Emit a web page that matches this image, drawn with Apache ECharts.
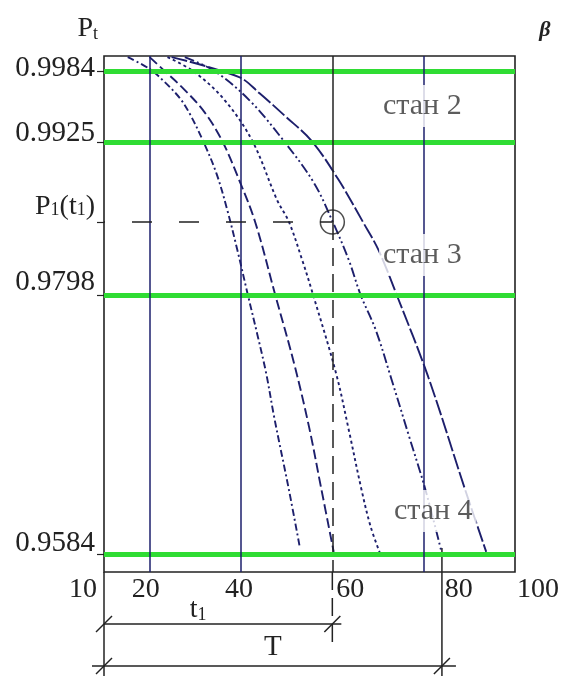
<!DOCTYPE html>
<html>
<head>
<meta charset="utf-8">
<script src="https://cdn.jsdelivr.net/npm/echarts@6/dist/echarts.min.js"></script>
<style>
  html, body { margin: 0; padding: 0; background: #fff; }
  #chart { width: 562px; height: 676px; }
</style>
</head>
<body>
<div id="chart"></div>
<script>
// reliability curves P(t)
const curve1T = [15.2, 20.0, 23.3, 26.6, 28.7, 31.6, 34.6, 37.0, 39.2, 41.4, 43.6, 45.5, 47.3, 50.5, 52.9]
const curve1P = [0.99956, 0.99857, 0.99749, 0.99616, 0.99492, 0.99269, 0.98995, 0.98689, 0.98358, 0.98002, 0.97654, 0.97339, 0.96966, 0.96370, 0.95890]

const curve2T = [20.0, 23.3, 27.7, 32.0, 35.9, 39.6, 43.1, 47.5, 51.6, 54.9, 57.5, 60.3]
const curve2P = [0.99956, 0.99840, 0.99683, 0.99500, 0.99260, 0.98937, 0.98590, 0.97985, 0.97422, 0.96892, 0.96395, 0.95857]

const curve3T = [23.9, 29.8, 36.4, 42.5, 47.9, 50.5, 53.4, 55.8, 60.8, 63.6, 66.4, 68.4, 70.4]
const curve3P = [0.99956, 0.99832, 0.99600, 0.99260, 0.98772, 0.98590, 0.98275, 0.97985, 0.97339, 0.96867, 0.96370, 0.96064, 0.95849]

const curve4T = [27.7, 34.2, 41.8, 49.4, 56.0, 60.1, 63.6, 66.2, 69.5, 73.0, 76.7, 80.4, 83.9]
const curve4P = [0.99956, 0.99840, 0.99600, 0.99260, 0.98912, 0.98590, 0.98275, 0.97985, 0.97696, 0.97281, 0.96826, 0.96370, 0.95857]

const curve5T = [24.8, 39.6, 44.0, 49.9, 55.5, 61.4, 66.7, 70.1, 74.1, 81.0, 89.1, 93.7]
const curve5P = [0.99956, 0.99790, 0.99658, 0.99459, 0.99260, 0.98937, 0.98590, 0.98358, 0.97985, 0.97306, 0.96370, 0.95857]

const curveDash = [[7, 3, 2, 3], [10, 4], [3, 3], [10, 3, 2, 3, 2, 3], [16, 3]]

// state thresholds and the marked point
const stateLevels = [0.9984, 0.9925, 0.9798, 0.9584]
const p1Level = 0.9859
const t1Value = 60
const bigT = 84
const gridLinesT = [20, 40, 80]

const stateNames = ['стан 2', 'стан 3', 'стан 4']
const stateNameT = [79.7, 79.7, 82.1]
const stateNameP = [0.99550, 0.98316, 0.96196]

const xTicks = [10, 20, 40, 60, 80, 100]
const yTicks = [0.9984, 0.9925, 0.9859, 0.9798, 0.9584]

const yMin = 0.9569
const yMax = 0.99965

const FONT = '"Liberation Serif", "Times New Roman", serif'
const INK = '#222'
const NAVY = '#1d1f6c'

const zip = (a, b) => a.map((v, i) => [v, b[i]])
const curves = [
  zip(curve1T, curve1P), zip(curve2T, curve2P), zip(curve3T, curve3P),
  zip(curve4T, curve4P), zip(curve5T, curve5P),
]

// hand-placed offsets of the tick labels in the scan
const xShift = { 10: -21, 20: -4, 40: -2, 60: 18, 80: 35, 100: 23 }
const yLift = { 0.9984: 3, 0.9925: 9, 0.9859: 15, 0.9798: 13, 0.9584: 11 }

const xRich = {}
xTicks.forEach((v) => {
  const s = xShift[v]
  xRich['x' + v] = {
    fontSize: 28, fontFamily: FONT, color: INK,
    padding: s >= 0 ? [0, 0, 0, 2 * s] : [0, -2 * s, 0, 0],
  }
})
const yRich = {}
yTicks.forEach((v, i) => {
  const pad = [0, 0, 2 * yLift[v], 0]
  yRich['y' + i] = { fontSize: 29, fontFamily: FONT, color: INK, padding: pad }
  yRich['p' + i] = { fontSize: 28, fontFamily: FONT, color: INK, padding: pad }
  yRich['s' + i] = { fontSize: 18, fontFamily: FONT, color: INK, padding: [0, 0, 2 * yLift[v] - 6, 0] }
})

const chart = echarts.init(document.getElementById('chart'))

const lineSeries = curves.map((pts, i) => ({
  type: 'line',
  data: pts,
  smooth: 0.35,
  showSymbol: false,
  silent: true,
  z: 3,
  lineStyle: { color: NAVY, width: 1.9, type: curveDash[i] },
}))

chart.setOption({
  animation: false,
  backgroundColor: '#fff',
  grid: {
    left: 104, top: 56, right: 45, bottom: 104,
    show: true, borderColor: INK, borderWidth: 1.6, backgroundColor: 'transparent',
  },
  xAxis: {
    type: 'value', min: 10, max: 100,
    axisLine: { show: false },
    axisTick: { show: false },
    splitLine: { show: false },
    axisLabel: {
      customValues: xTicks,
      margin: 4,
      formatter: (v) => '{x' + v + '|' + v + '}',
      rich: xRich,
    },
  },
  yAxis: {
    type: 'value', min: yMin, max: yMax,
    name: '{p|P}{s|t}',
    nameLocation: 'end',
    nameGap: 13,
    nameTextStyle: {
      align: 'right', padding: [0, 6, 0, 0],
      rich: {
        p: { fontSize: 28, fontFamily: FONT, color: INK },
        s: { fontSize: 18, fontFamily: FONT, color: INK, verticalAlign: 'bottom' },
      },
    },
    axisLine: { show: false },
    splitLine: { show: false },
    axisTick: { show: true, customValues: yTicks, length: 7, lineStyle: { color: INK, width: 1.2 } },
    axisLabel: {
      customValues: yTicks,
      margin: 9,
      formatter: (v) => {
        const i = yTicks.findIndex((y) => Math.abs(y - v) < 1e-6)
        if (yTicks[i] === p1Level) return `{p${i}|P}{s${i}|1}{p${i}|(t}{s${i}|1}{p${i}|)}`
        return `{y${i}|${yTicks[i]}}`
      },
      rich: yRich,
    },
  },
  series: [
    {
      // reference lines: state thresholds, time grid, t1 marker
      type: 'line',
      data: [],
      silent: true,
      markLine: {
        silent: true,
        precision: 5,
        symbol: ['none', 'none'],
        label: { show: false },
        data: [
          ...stateLevels.map((p) => ({ yAxis: p, lineStyle: { color: '#2fdc33', width: 5, type: 'solid' } })),
          ...gridLinesT.map((t) => ({ xAxis: t, lineStyle: { color: NAVY, width: 1.5, type: 'solid' } })),
          [{ coord: [t1Value, yMax], lineStyle: { color: INK, width: 1.5, type: 'solid' } }, { coord: [t1Value, p1Level] }],
          [{ coord: [t1Value, p1Level], lineStyle: { color: INK, width: 1.5, type: [18, 8] } }, { coord: [t1Value, yMin] }],
          [{ coord: [10, p1Level], lineStyle: { color: INK, width: 1.5, type: [20, 27], dashOffset: 19 } }, { coord: [t1Value, p1Level] }],
        ],
      },
      z: 2,
    },
    ...lineSeries,
    {
      type: 'scatter',
      data: [[t1Value, p1Level]],
      symbol: 'circle',
      symbolSize: 24,
      silent: true,
      itemStyle: { color: 'rgba(0,0,0,0)', borderColor: INK, borderWidth: 1.5 },
      z: 4,
    },
    {
      type: 'scatter',
      data: stateNames.map((n, i) => ({ name: n, value: [stateNameT[i], stateNameP[i]] })),
      symbolSize: 0,
      silent: true,
      z: 6,
      label: {
        show: true,
        position: 'inside',
        formatter: (d) => d.name,
        fontSize: 30,
        fontFamily: FONT,
        color: '#333',
        backgroundColor: '#fff',
        padding: [6, 4],
      },
    },
  ],
})

// dimension lines under the axis (t1 and T)
const px = (t, p) => chart.convertToPixel({ gridIndex: 0 }, [t, p])
const [x0, yBot] = px(10, yMin)
const [xT1] = px(t1Value, yMin)
const [xBig, yLow] = px(bigT, stateLevels[3])
const line = (x1, y1, x2, y2, dash) => ({
  type: 'line',
  shape: { x1, y1, x2, y2 },
  style: { stroke: INK, lineWidth: 1.5, lineDash: dash || null },
  silent: true,
})
const slash = (x, y) => line(x - 8, y + 8, x + 8, y - 8)
const yDimT1 = yBot + 52
const yDimT = yBot + 94

chart.setOption({
  graphic: [
    line(x0, yBot, x0, 676),
    line(xT1, yBot, xT1, yBot + 76, [18, 8]),
    line(xBig, yLow - 6, xBig, 676),
    line(x0, yDimT1, xT1 + 9, yDimT1),
    line(x0 - 12, yDimT, xBig + 14, yDimT),
    slash(x0, yDimT1), slash(xT1, yDimT1),
    slash(x0, yDimT), slash(xBig, yDimT),
    {
      type: 'text', x: (x0 + xT1) / 2 - 20, y: yDimT1 - 14, silent: true,
      style: {
        text: '{a|t}{b|1}', align: 'center', verticalAlign: 'middle',
        rich: {
          a: { fontSize: 28, fontFamily: FONT, fill: INK },
          b: { fontSize: 18, fontFamily: FONT, fill: INK, verticalAlign: 'bottom' },
        },
      },
    },
    {
      type: 'text', x: (x0 + xBig) / 2, y: yDimT - 19, silent: true,
      style: { text: 'T', align: 'center', verticalAlign: 'middle', fontSize: 29, fontFamily: FONT, fill: INK },
    },
    {
      type: 'text', x: 545, y: 30, silent: true,
      style: { text: 'β', align: 'center', verticalAlign: 'middle', fontSize: 22, fontStyle: 'italic', fontWeight: 'bold', fontFamily: FONT, fill: INK },
    },
  ],
})
</script>
</body>
</html>
